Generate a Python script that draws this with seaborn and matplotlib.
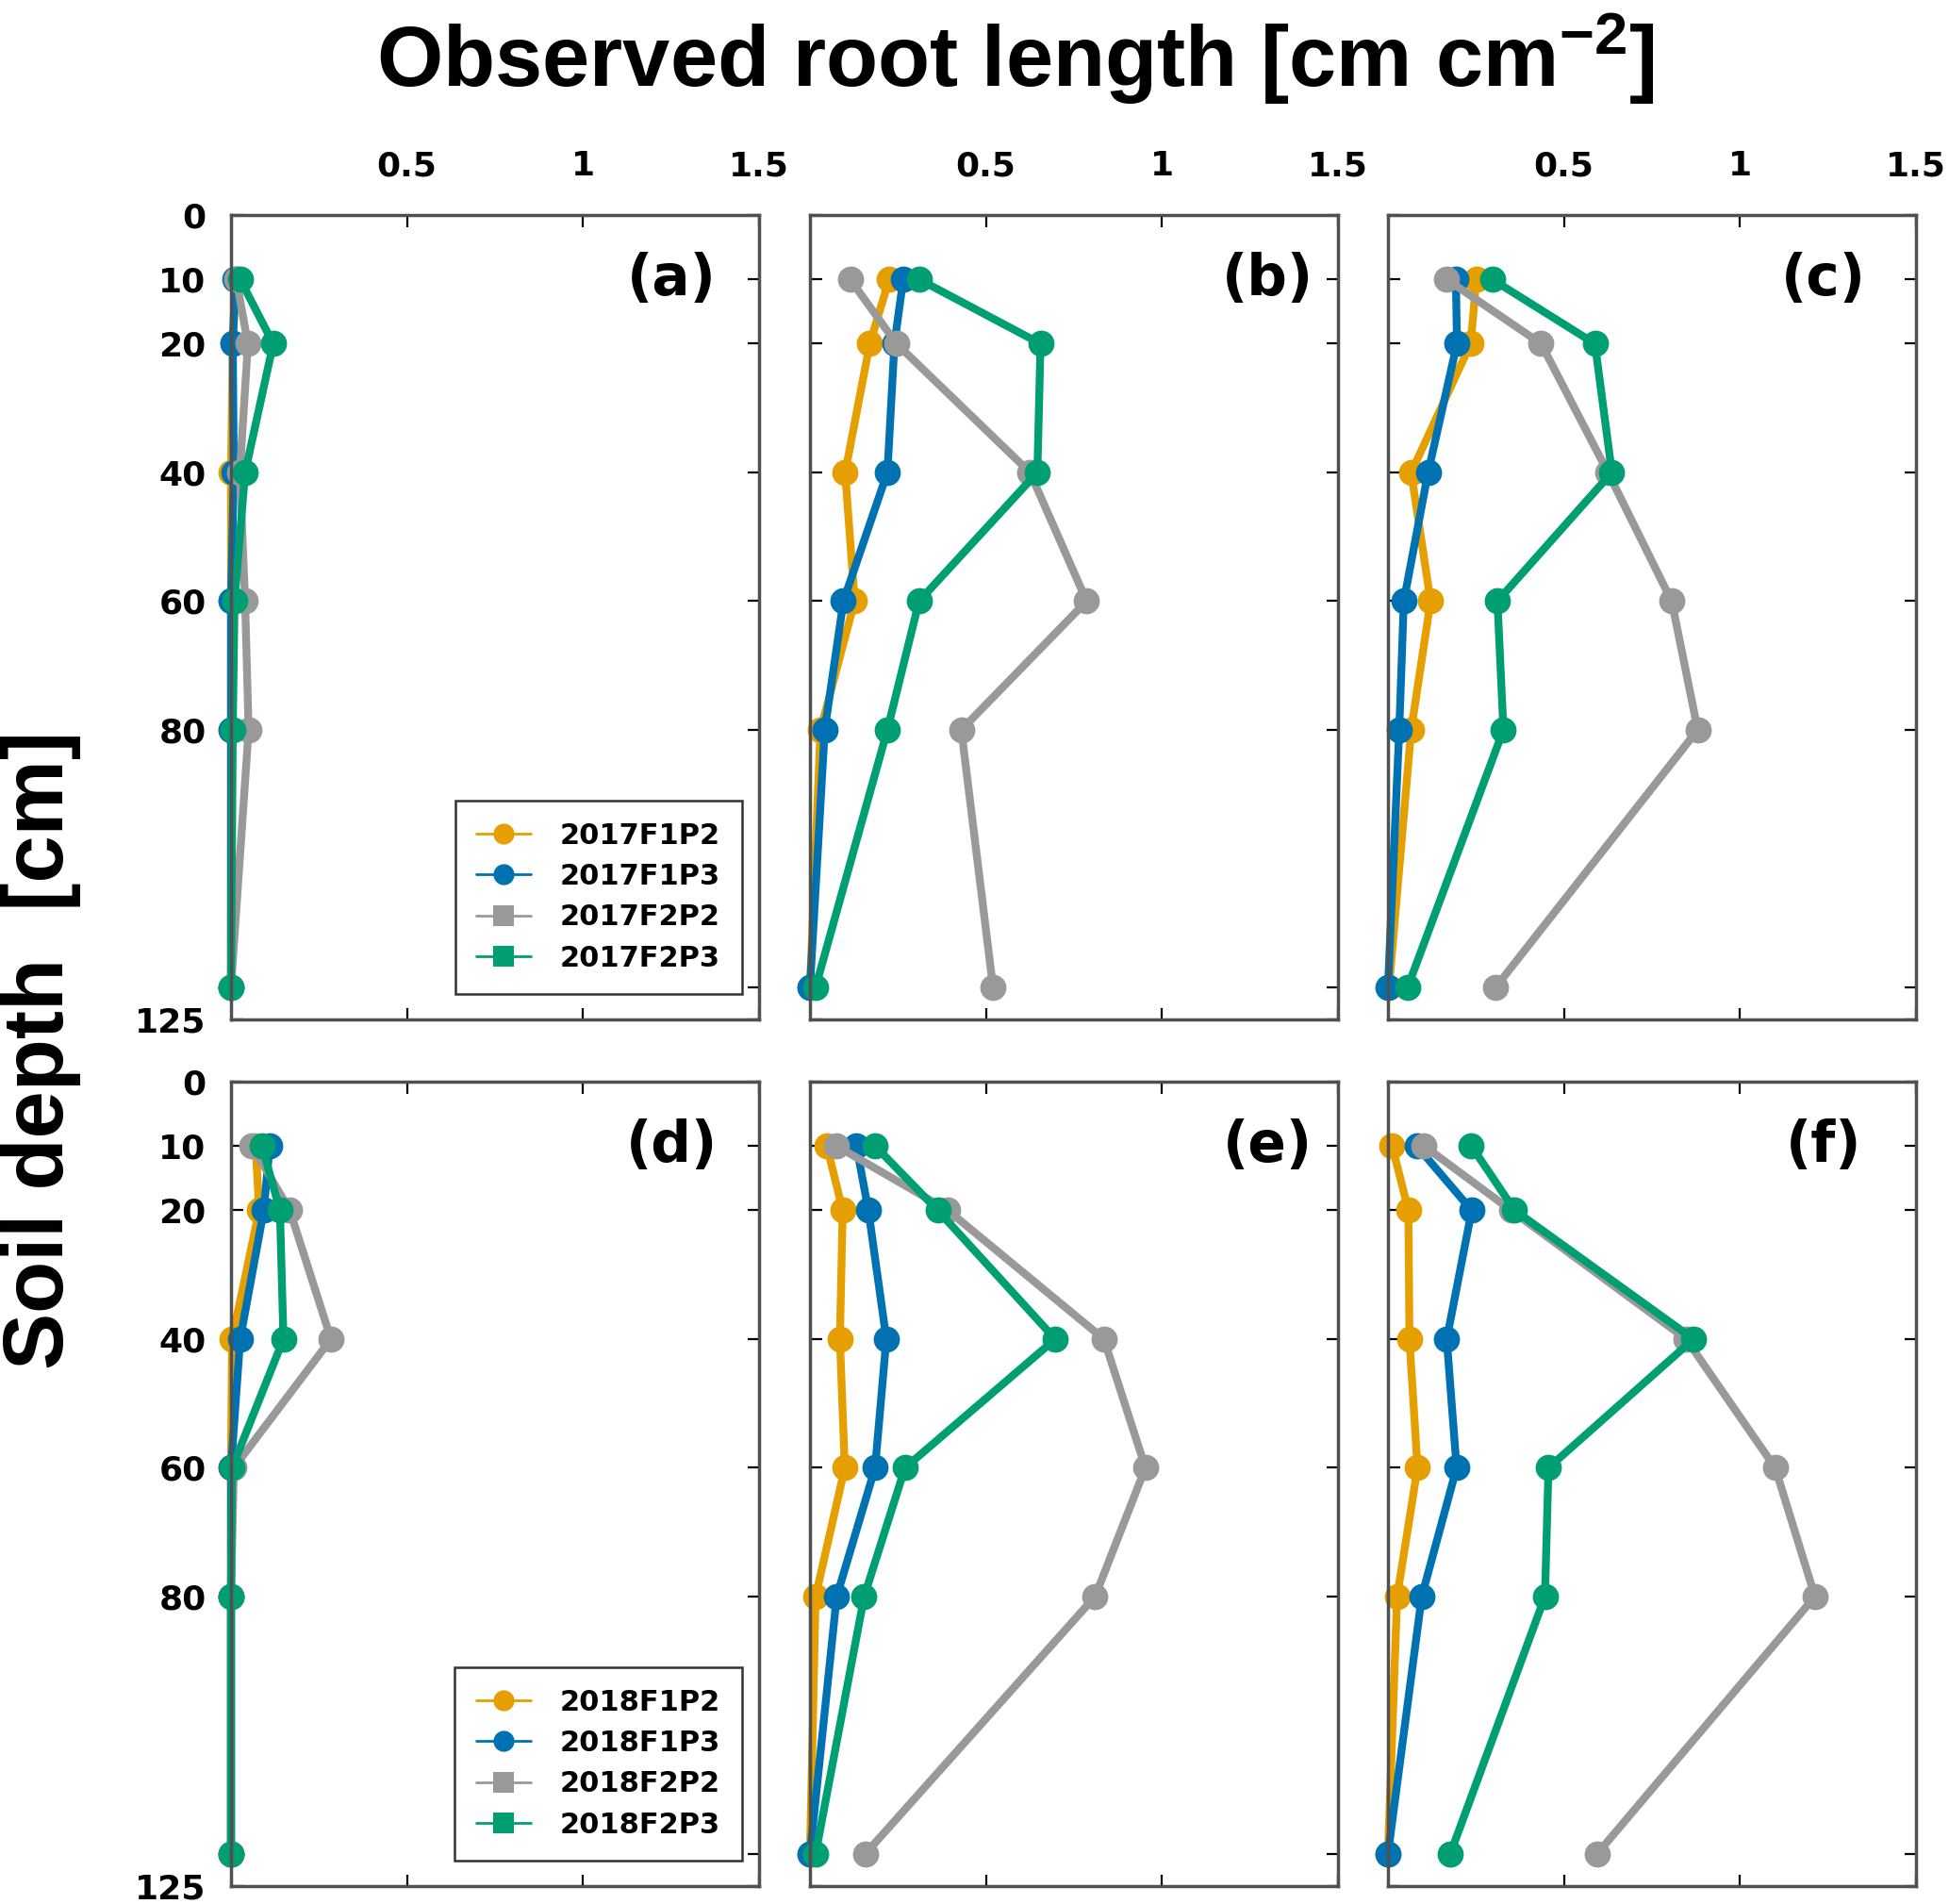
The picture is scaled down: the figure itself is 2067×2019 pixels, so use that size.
import numpy as np
import pandas as pd
import matplotlib
matplotlib.use("Agg")
import matplotlib.pyplot as plt
import seaborn as sns
from matplotlib.lines import Line2D

# ---------------- data ----------------
depth = [10, 20, 40, 60, 80, 120]
series_2017 = ["2017F1P2", "2017F1P3", "2017F2P2", "2017F2P3"]
series_2018 = ["2018F1P2", "2018F1P3", "2018F2P2", "2018F2P3"]
panel_labels = ["(a)", "(b)", "(c)", "(d)", "(e)", "(f)"]

# panel (a)
a_F1P2 = [0.015, 0.005, 0.00, 0.00, 0.00, 0.00]
a_F1P3 = [0.012, 0.005, 0.008, 0.00, 0.00, 0.00]
a_F2P2 = [0.015, 0.048, 0.025, 0.040, 0.050, 0.00]
a_F2P3 = [0.026, 0.120, 0.040, 0.010, 0.005, 0.00]
# panel (b)
b_F1P2 = [0.225, 0.170, 0.100, 0.127, 0.030, 0.00]
b_F1P3 = [0.265, 0.240, 0.220, 0.095, 0.042, 0.00]
b_F2P2 = [0.114, 0.246, 0.625, 0.786, 0.430, 0.520]
b_F2P3 = [0.310, 0.655, 0.646, 0.310, 0.220, 0.016]
# panel (c)
c_F1P2 = [0.251, 0.235, 0.066, 0.121, 0.066, 0.003]
c_F1P3 = [0.193, 0.196, 0.114, 0.045, 0.032, 0.00]
c_F2P2 = [0.167, 0.435, 0.625, 0.806, 0.880, 0.306]
c_F2P3 = [0.296, 0.588, 0.636, 0.311, 0.328, 0.056]
# panel (d)
d_F1P2 = [0.070, 0.080, 0.003, 0.00, 0.00, 0.00]
d_F1P3 = [0.110, 0.093, 0.026, 0.00, 0.00, 0.00]
d_F2P2 = [0.060, 0.167, 0.284, 0.008, 0.00, 0.00]
d_F2P3 = [0.088, 0.139, 0.149, 0.003, 0.00, 0.00]
# panel (e)
e_F1P2 = [0.048, 0.093, 0.085, 0.099, 0.016, 0.00]
e_F1P3 = [0.132, 0.166, 0.217, 0.185, 0.076, 0.00]
e_F2P2 = [0.076, 0.392, 0.835, 0.953, 0.810, 0.157]
e_F2P3 = [0.185, 0.363, 0.697, 0.270, 0.154, 0.016]
# panel (f)
f_F1P2 = [0.012, 0.058, 0.061, 0.084, 0.026, 0.00]
f_F1P3 = [0.082, 0.238, 0.167, 0.195, 0.096, 0.00]
f_F2P2 = [0.103, 0.350, 0.847, 1.100, 1.213, 0.594]
f_F2P3 = [0.237, 0.360, 0.868, 0.456, 0.446, 0.177]

x_ticks = [0.5, 1.0, 1.5]
x_ticklabels = ["0.5", "1", "1.5"]
y_ticks = [0, 10, 20, 40, 60, 80, 120, 125]
y_ticklabels = ["0", "10", "20", "40", "60", "80", "", "125"]

colors = ["#E69F00", "#0072B2", "#999999", "#009E73"]

panels = [
    (series_2017, [a_F1P2, a_F1P3, a_F2P2, a_F2P3]),
    (series_2017, [b_F1P2, b_F1P3, b_F2P2, b_F2P3]),
    (series_2017, [c_F1P2, c_F1P3, c_F2P2, c_F2P3]),
    (series_2018, [d_F1P2, d_F1P3, d_F2P2, d_F2P3]),
    (series_2018, [e_F1P2, e_F1P3, e_F2P2, e_F2P3]),
    (series_2018, [f_F1P2, f_F1P3, f_F2P2, f_F2P3]),
]

# ---------------- style ----------------
sns.set_style("white")
plt.rcParams["font.family"] = ["DejaVu Sans"]
plt.rcParams["font.weight"] = "bold"
plt.rcParams["text.color"] = "black"
plt.rcParams["axes.labelcolor"] = "black"
plt.rcParams["xtick.color"] = "black"
plt.rcParams["ytick.color"] = "black"
plt.rcParams["mathtext.fontset"] = "custom"
plt.rcParams["mathtext.rm"] = "Liberation Sans:bold"
plt.rcParams["mathtext.it"] = "Liberation Sans:bold"
plt.rcParams["mathtext.bf"] = "Liberation Sans:bold"

W, H = 2067, 2019
fig = plt.figure(figsize=(W / 100, H / 100), dpi=100)
fig.patch.set_facecolor("white")

col_left = [245, 859, 1472]
row_top = [228, 1147]
ax_w, ax_h = 560, 853
label_x = [0.834, 0.866, 0.825, 0.835, 0.866, 0.825]

for i, (names, vals) in enumerate(panels):
    r, c = divmod(i, 3)
    left = col_left[c] / W
    bottom = 1 - (row_top[r] + ax_h) / H
    ax = fig.add_axes([left, bottom, ax_w / W, ax_h / H])

    df = pd.DataFrame({
        "value": np.concatenate(vals),
        "depth": depth * len(names),
        "series": np.repeat(names, len(depth)),
    })
    sns.lineplot(data=df, x="value", y="depth", hue="series", hue_order=names,
                 palette=colors, sort=False, estimator=None, marker="o",
                 markersize=20, markeredgewidth=0, linewidth=6,
                 clip_on=False, legend=False, ax=ax)

    ax.set_xlim(0, 1.5)
    ax.set_ylim(125, 0)
    ax.set_xlabel("")
    ax.set_ylabel("")
    ax.set_xticks(x_ticks)
    ax.set_xticklabels(x_ticklabels)
    ax.set_yticks(y_ticks)
    ax.set_yticklabels(y_ticklabels)
    ax.tick_params(axis="both", direction="in", length=9, width=1.6,
                   color="black", labelcolor="black",
                   top=True, right=True, bottom=True, left=True,
                   labelsize=26)
    ax.tick_params(axis="x", labelbottom=False, labeltop=(r == 0), pad=25)
    ax.tick_params(axis="y", labelleft=(c == 0), labelright=False, pad=19)
    for lab in ax.get_xticklabels() + ax.get_yticklabels():
        lab.set_fontweight("bold")
    for sp in ax.spines.values():
        sp.set_color("#505050")
        sp.set_linewidth(2.5)
        sp.set_visible(True)
    ax.grid(False)

    ax.text(label_x[i], 0.92, panel_labels[i], transform=ax.transAxes,
            ha="center", va="center", fontsize=43, fontweight="bold",
            color="black")

    if c == 0:
        handles = [
            Line2D([], [], color=colors[0], marker="o", markersize=16, lw=2, markeredgewidth=0),
            Line2D([], [], color=colors[1], marker="o", markersize=16, lw=2, markeredgewidth=0),
            Line2D([], [], color=colors[2], marker="s", markersize=16, lw=2, markeredgewidth=0),
            Line2D([], [], color=colors[3], marker="s", markersize=16, lw=2, markeredgewidth=0),
        ]
        leg = ax.legend(handles, names, loc="lower right",
                        bbox_to_anchor=(0.968, 0.032), fontsize=22,
                        frameon=True, fancybox=False, edgecolor="black",
                        handlelength=1.9, handletextpad=1.0, labelspacing=0.47,
                        borderpad=0.75, borderaxespad=0)
        leg.get_frame().set_linewidth(1.8)
        for t in leg.get_texts():
            t.set_fontweight("bold")
            t.set_color("black")

fig.text(1077 / W, 1 - 62 / H, "Observed root length [cm cm$^{-2}$]",
         ha="center", va="center", fontsize=65, fontweight="bold",
         color="black", family=["Liberation Sans", "DejaVu Sans"])
fig.text(44 / W, 1 - 1113 / H, "Soil depth  [cm]", rotation=90,
         ha="center", va="center", fontsize=65, fontweight="bold",
         color="black", family=["Liberation Sans", "DejaVu Sans"])

fig.savefig("out.png", dpi=100, facecolor="white")
